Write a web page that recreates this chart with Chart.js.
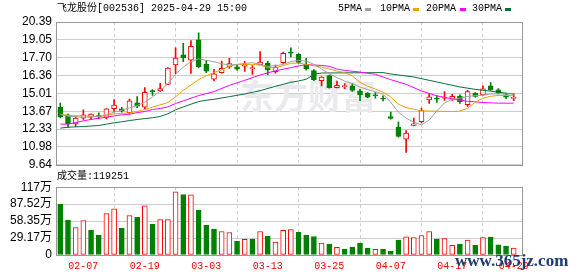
<!DOCTYPE html>
<html>
<head>
<meta charset="utf-8">
<script src="https://cdn.jsdelivr.net/npm/chart.js@4.4.1/dist/chart.umd.min.js"></script>
<style>
  body { margin: 0; background: #fff; }
  #caixa { position: relative; width: 578px; height: 276px; overflow: hidden; }
  canvas { position: absolute; left: 0; }
  .txt { position: absolute; font: 10px "Liberation Mono", "Noto Sans CJK SC", monospace; color: #000; line-height: 12px; white-space: pre; }
  .traco { position: absolute; top: 8px; width: 6px; height: 3px; }
  #marca { position: absolute; left: 455px; top: 252px; font: bold 17px "Liberation Serif", serif; color: #1f3a6f; line-height: 17px; }
</style>
</head>
<body>
<div id="caixa">
  <canvas id="graficoK" width="578" height="176" style="top:0"></canvas>
  <canvas id="graficoVol" width="578" height="100" style="top:176px"></canvas>
  <div class="txt" style="left:57px;top:3px">飞龙股份[002536] 2025-04-29 15:00</div>
  <div class="txt" style="left:338px;top:3px">5PMA</div>
  <div class="traco" style="left:365px;background:#a0a0a0"></div>
  <div class="txt" style="left:380px;top:3px">10PMA</div>
  <div class="traco" style="left:413px;background:#f0a000"></div>
  <div class="txt" style="left:426px;top:3px">20PMA</div>
  <div class="traco" style="left:460px;background:#ff00ff"></div>
  <div class="txt" style="left:472px;top:3px">30PMA</div>
  <div class="traco" style="left:505px;background:#0a6e3a"></div>
  <div class="txt" style="left:57px;top:171px">成交量:119251</div>
  <div id="marca">www.365jz.com</div>
</div>
<script>
const dias = ['01-27','02-05','02-06','02-07','02-10','02-11','02-12','02-13','02-14','02-17',
  '02-18','02-19','02-20','02-21','02-24','02-25','02-26','02-27','02-28','03-03',
  '03-04','03-05','03-06','03-07','03-10','03-11','03-12','03-13','03-14','03-17',
  '03-18','03-19','03-20','03-21','03-24','03-25','03-26','03-27','03-28','03-31',
  '04-01','04-02','04-03','04-07','04-08','04-09','04-10','04-11','04-14','04-15',
  '04-16','04-17','04-18','04-21','04-22','04-23','04-24','04-25','04-28','04-29'];

const abertura = [13.97,13.40,12.72,13.15,13.22,13.35,13.20,13.87,13.85,13.57,
  14.30,13.98,15.22,15.20,15.70,17.15,17.92,17.52,19.04,17.23,
  16.08,16.58,17.01,17.02,17.06,16.88,17.17,17.30,16.66,17.33,
  18.12,17.95,17.20,16.73,15.98,16.35,15.45,15.52,15.58,15.20,
  15.03,14.88,14.62,13.27,12.48,11.57,12.60,12.88,14.53,14.62,
  14.66,14.58,14.80,14.17,15.03,14.90,15.58,15.28,14.93,14.64];
const fechamento = [13.27,12.72,13.15,13.40,13.45,13.25,13.85,14.13,13.68,14.45,
  14.05,15.10,15.12,15.37,16.92,17.67,17.70,18.55,17.03,16.68,
  16.48,16.91,17.26,16.84,17.22,16.92,17.38,16.78,16.98,18.04,
  18.05,17.35,16.88,16.05,16.25,15.45,15.63,15.58,15.23,14.90,
  14.73,14.84,14.58,13.13,11.77,12.02,12.72,13.72,14.75,14.58,
  14.70,14.80,14.40,15.16,14.78,15.35,15.28,15.05,14.73,14.72];
const maxima = [14.28,13.45,13.27,13.77,13.48,13.55,13.88,14.55,13.97,14.58,
  14.78,15.45,15.30,15.78,16.95,18.45,18.78,19.00,19.58,17.50,
  16.83,17.45,17.66,17.12,17.42,17.10,18.16,17.42,17.14,18.12,
  18.45,18.02,17.66,16.80,16.28,16.40,15.95,15.76,15.75,15.33,
  15.08,15.07,14.83,13.60,12.87,12.21,13.15,13.91,14.99,14.85,
  15.15,14.95,14.91,15.24,15.08,15.59,15.83,15.38,15.03,14.98];
const minima = [13.16,12.45,12.52,13.05,13.05,13.10,13.10,13.65,13.60,13.47,
  13.95,13.82,14.87,15.15,15.68,16.50,17.40,16.52,16.93,16.58,
  15.96,16.53,16.90,16.77,16.67,16.44,17.15,16.43,16.54,17.28,
  17.76,17.25,16.76,15.98,15.58,15.40,15.42,15.38,15.16,14.47,
  14.68,14.66,14.45,13.07,11.72,10.57,12.57,12.79,14.27,14.33,
  14.49,14.48,14.27,14.04,14.73,14.88,15.23,14.98,14.62,14.47];

// volume em 万
const volume = [87.0,59.7,47.2,59.2,42.6,34.1,71.1,79.6,46.1,67.7,
  64.8,84.8,52.9,60.9,60.9,108.7,104.1,103.6,76.8,51.2,
  44.4,40.4,38.7,23.9,26.8,27.3,40.4,32.4,22.2,42.3,
  43.8,39.2,34.1,31.9,20.5,18.8,13.1,10.2,13.6,20.5,
  11.9,9.7,10.2,6.8,25.6,31.3,30.1,33.5,40.4,27.3,
  28.4,16.5,18.8,25.6,17.1,30.1,30.7,17.6,15.4,11.93];
const volAlta = [0,0,1,1,0,0,1,1,0,1, 0,1,0,1,1,1,0,1,0,0, 0,1,1,0,1,0,1,0,1,1,
  1,0,0,0,1,0,1,0,0,0, 0,1,0,0,0,1,1,1,1,0, 1,1,0,1,0,1,0,0,0,1];

const ma5 = [13.45,13.30,null,13.22,null,13.27,13.42,13.60,13.75,13.92,
  14.10,14.35,14.75,15.20,15.75,16.45,17.00,17.40,17.62,17.50,
  17.40,17.25,17.15,17.20,17.27,17.33,17.20,17.05,17.10,17.20,
  17.41,17.50,17.45,17.20,16.85,16.50,16.20,15.95,15.75,15.50,
  15.30,15.15,14.95,14.35,13.60,13.15,12.85,12.65,13.00,13.70,
  14.30,14.58,14.65,14.78,14.85,14.88,14.98,null,null,14.98];
const ma10 = [13.45,13.35,null,13.32,null,13.28,13.35,13.48,null,13.55,
  13.65,13.80,13.98,14.15,14.33,14.75,15.25,15.65,16.05,16.35,
  16.58,16.80,17.05,17.20,null,17.20,17.15,16.95,16.95,17.10,
  17.28,17.30,17.20,null,17.00,16.85,16.70,16.58,16.33,15.85,
  15.55,15.35,15.10,14.75,14.20,13.95,null,13.70,null,null,
  null,13.65,13.68,13.90,14.35,14.65,14.80,14.86,null,14.86];
const ma20 = [12.70,12.70,12.82,12.95,13.05,13.15,13.22,13.32,13.40,13.45,
  13.57,13.65,13.80,13.88,14.00,14.25,14.45,14.65,14.85,15.00,
  15.15,null,15.62,null,16.00,null,16.40,null,16.72,null,
  16.95,17.08,17.18,null,17.12,17.05,16.85,16.75,null,16.62,
  null,16.45,null,16.05,null,15.70,null,15.20,null,14.83,
  null,14.60,null,14.42,null,14.33,null,14.28,null,14.28];
const ma30 = [12.40,12.47,null,12.52,null,12.60,12.70,12.80,12.88,12.97,
  13.05,13.12,13.18,13.28,13.48,13.78,14.00,14.20,14.40,14.50,
  14.57,null,14.77,null,14.97,null,15.22,null,15.55,null,
  15.85,15.95,16.08,16.45,16.55,null,null,null,null,null,
  null,null,16.58,16.48,16.40,null,16.25,null,16.00,null,
  15.75,null,15.50,null,15.32,null,15.18,null,15.03,14.98];

const rotulosX = ['02-07','02-19','03-03','03-13','03-25','04-07','04-17','04-29'];
const precoTicks = [9.64,10.98,12.33,13.67,15.01,16.36,17.70,19.05,20.39];
const volTicks = [0,29.17,58.35,87.52,116.68];
const volRotulos = ['0','29.17万','58.35万','87.52万','117万'];

const VERMELHO = '#ff0000';
const VERDE = '#008000';
const GRADE = '#cccccc';
const MONO = '"Liberation Mono", "Noto Sans CJK SC", monospace';

Chart.defaults.font.family = '"Liberation Sans", "Noto Sans CJK SC", sans-serif';
Chart.defaults.font.size = 12;

const tickPos = rotulosX.map(d => dias.indexOf(d));
const sobe = fechamento.map((f, i) => f >= abertura[i]);
const corVela = sobe.map(s => s ? VERMELHO : VERDE);

const linhaMA = (dados, cor) => ({
    type: 'line',
    data: dados.map((v, i) => ({ x: i, y: v })),
    borderColor: cor,
    borderWidth: 1,
    pointRadius: 0,
    tension: 0,
    spanGaps: true,
    order: 0,
});

const escalaX = (mostrar) => ({
    type: 'linear',
    min: -0.56,
    max: 60.08,
    offset: false,
    afterBuildTicks: (s) => { s.ticks = tickPos.map(v => ({ value: v })); },
    ticks: {
        display: mostrar,
        color: VERMELHO,
        font: { family: MONO, size: 10 },
        padding: 5,
        maxRotation: 0,
        autoSkip: false,
        callback: (v) => dias[v],
    },
    grid: { color: GRADE, drawTicks: false },
    border: { display: false, dash: [3, 3] },
    afterFit: (s) => { s.height = mostrar ? 21 : 0; },
});

// moldura cinza em volta da area do grafico
const molduraPlugin = {
    id: 'moldura',
    afterDraw(chart) {
        const { ctx, chartArea: a } = chart;
        ctx.save();
        ctx.strokeStyle = '#999999';
        ctx.lineWidth = 1;
        ctx.strokeRect(Math.round(a.left) + 0.5, Math.round(a.top) + 0.5,
            Math.round(a.right - a.left), Math.round(a.bottom - a.top));
        ctx.restore();
    }
};

const marcaDaguaPlugin = {
    id: 'marcaDagua',
    beforeDatasetsDraw(chart) {
        const ctx = chart.ctx;
        ctx.save();
        ctx.fillStyle = '#eaeaee';
        ctx.font = 'bold 34px "Noto Sans CJK SC"';
        ctx.textBaseline = 'middle';
        ctx.fillText('东方财富', 240, 96);
        ctx.restore();
    }
};

const configK = {
    type: 'bar',
    data: {
        datasets: [
            {
                data: dias.map((d, i) => ({ x: i, y: [abertura[i], fechamento[i]] })),
                backgroundColor: sobe.map(s => s ? '#ffffff' : VERDE),
                borderColor: corVela,
                borderWidth: 1,
                borderSkipped: false,
                barThickness: 5,
                minBarLength: 1,
                grouped: false,
                order: 1,
            },
            {
                data: dias.map((d, i) => ({ x: i, y: [minima[i], maxima[i]] })),
                backgroundColor: corVela,
                borderWidth: 0,
                barThickness: 1,
                grouped: false,
                order: 2,
            },
            linhaMA(ma5, '#a0a0a0'),
            linhaMA(ma10, '#f0a000'),
            linhaMA(ma20, '#ff00ff'),
            linhaMA(ma30, '#0a6e3a'),
        ]
    },
    options: {
        responsive: false,
        animation: false,
        layout: { padding: { top: 22, right: 56, bottom: 11, left: 0 } },
        plugins: { legend: { display: false }, tooltip: { enabled: false } },
        scales: {
            x: escalaX(false),
            y: {
                min: 9.64,
                max: 20.39,
                afterBuildTicks: (s) => { s.ticks = precoTicks.map(v => ({ value: v })); },
                ticks: { color: '#000', padding: 4, autoSkip: false, callback: (v) => v.toFixed(2) },
                grid: { color: GRADE, drawTicks: false },
                border: { display: false },
                afterFit: (s) => { s.width = 56; },
            }
        }
    },
    plugins: [marcaDaguaPlugin, molduraPlugin]
};

const configVol = {
    type: 'bar',
    data: {
        datasets: [{
            data: volume.map((v, i) => ({ x: i, y: v })),
            backgroundColor: volAlta.map(s => s ? '#ffffff' : VERDE),
            borderColor: volAlta.map(s => s ? VERMELHO : VERDE),
            borderWidth: 1,
            borderSkipped: false,
            barThickness: 5,
            grouped: false,
        }]
    },
    options: {
        responsive: false,
        animation: false,
        layout: { padding: { top: 11, right: 56, bottom: 0, left: 0 } },
        plugins: { legend: { display: false }, tooltip: { enabled: false } },
        scales: {
            x: escalaX(true),
            y: {
                min: 0,
                max: 116.68,
                afterBuildTicks: (s) => { s.ticks = volTicks.map(v => ({ value: v })); },
                ticks: { color: '#000', padding: 4, autoSkip: false, callback: (v, i) => volRotulos[i] },
                grid: { color: GRADE, drawTicks: false },
                border: { display: false },
                afterFit: (s) => { s.width = 56; },
            }
        }
    },
    plugins: [molduraPlugin]
};

new Chart(document.getElementById('graficoK').getContext('2d'), configK);
new Chart(document.getElementById('graficoVol').getContext('2d'), configVol);
</script>
</body>
</html>
